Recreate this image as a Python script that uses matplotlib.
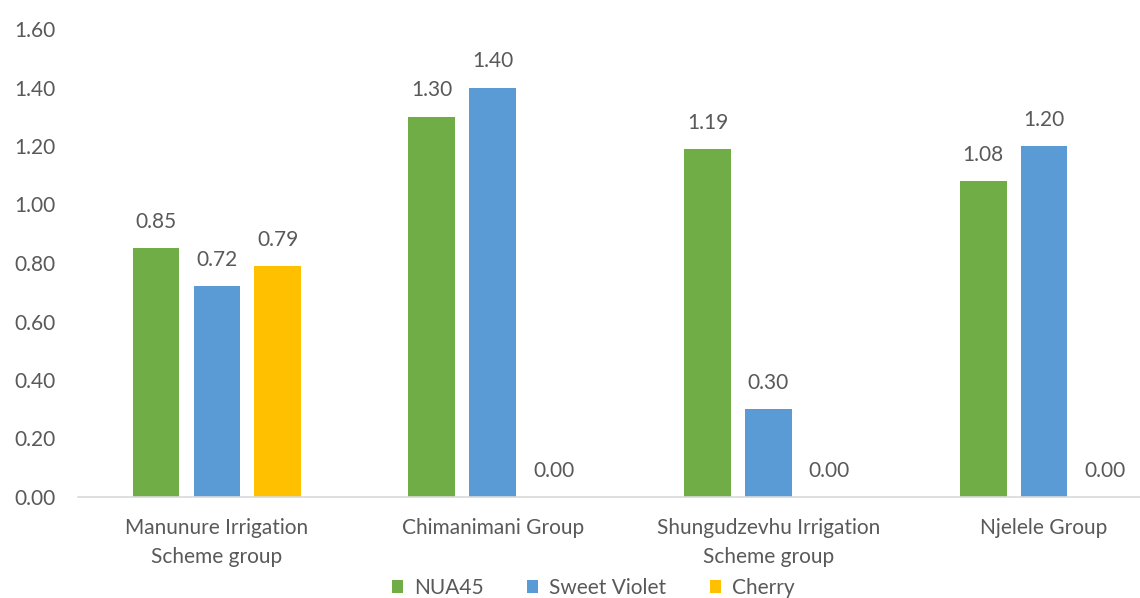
import numpy as np
import matplotlib.pyplot as plt

plt.rcParams['font.family'] = ['Lato', 'DejaVu Sans']

groups = ["Manunure Irrigation\nScheme group", "Chimanimani Group",
          "Shungudzevhu Irrigation\nScheme group", "Njelele Group"]
series = ["NUA45", "Sweet Violet", "Cherry"]
nua45 = [0.85, 1.30, 1.19, 1.08]
sweet_violet = [0.72, 1.40, 0.30, 1.20]
cherry = [0.79, 0.00, 0.00, 0.00]
colors = ["#70AD47", "#5B9BD5", "#FFC000"]
yticks = [0.0, 0.2, 0.4, 0.6, 0.8, 1.0, 1.2, 1.4, 1.6]

fig = plt.figure(figsize=(11.4, 5.98), dpi=100)
ax = fig.add_axes([78 / 1140, 1 - 497 / 598, 1 - 78 / 1140, (497 - 29) / 598])

x = np.arange(len(groups))
w = 0.17
off = 0.221
txt = "#595959"
fs = 15
for i, (vals, name, c) in enumerate(zip([nua45, sweet_violet, cherry], series, colors)):
    pos = x + (i - 1) * off
    ax.bar(pos, vals, w, color=c, label=name)
    for p, v in zip(pos, vals):
        ax.text(p, v + 0.09, f"{v:.2f}", ha="center", va="center", fontsize=fs, color=txt)

ax.set_xlim(-0.504, 3.348)
ax.set_ylim(0, 1.6)
ax.set_yticks(yticks)
ax.set_yticklabels([f"{t:.2f}" for t in yticks])
ax.set_xticks(x)
ax.set_xticklabels(groups, fontsize=fs, color=txt, linespacing=1.6)
ax.tick_params(axis="y", length=0, labelsize=fs, labelcolor=txt, pad=16)
ax.tick_params(axis="x", length=0, pad=15)
for s in ["top", "right", "left"]:
    ax.spines[s].set_visible(False)
ax.spines["bottom"].set_color("#D9D9D9")
ax.spines["bottom"].set_linewidth(1.2)

leg = fig.legend(loc="center", bbox_to_anchor=(593 / 1140, 1 - 588 / 598), ncol=3, frameon=False,
                 fontsize=fs, handlelength=0.55, handleheight=0.55, handletextpad=0.5,
                 columnspacing=2.1, borderpad=0)
for t in leg.get_texts():
    t.set_color(txt)

fig.savefig("out.png", dpi=100)
